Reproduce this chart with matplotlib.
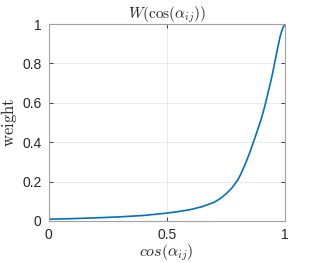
import matplotlib
matplotlib.use('Agg')
import matplotlib.pyplot as plt

# values
cos_a = [0.0, 0.1, 0.2, 0.3, 0.4, 0.5, 0.55, 0.6, 0.65, 0.7, 0.725, 0.75, 0.775,
         0.8, 0.8125, 0.825, 0.8375, 0.85, 0.8625, 0.875, 0.8875, 0.9, 0.915,
         0.925, 0.94, 0.95, 0.96, 0.97, 0.98, 0.99, 1.0]
weight = [0.009, 0.012, 0.016, 0.021, 0.028, 0.040, 0.048, 0.058, 0.073, 0.095,
          0.113, 0.137, 0.167, 0.208, 0.237, 0.270, 0.306, 0.345, 0.387, 0.430,
          0.475, 0.520, 0.585, 0.635, 0.710, 0.765, 0.825, 0.885, 0.940, 0.978,
          1.0]
xticks = [0, 0.5, 1]
yticks = [0, 0.2, 0.4, 0.6, 0.8, 1]

plt.rcParams['mathtext.fontset'] = 'cm'
plt.rcParams['font.family'] = 'Liberation Sans'

fig = plt.figure(figsize=(3.16, 2.63), dpi=100)
ax = fig.add_axes([0.1535, 0.1597, 0.7485, 0.749])

ax.plot(cos_a, weight, color='#0072BD', lw=1.2)

ax.set_xlim(0, 1)
ax.set_ylim(0, 1)
ax.set_xticks(xticks)
ax.set_xticklabels(['0', '0.5', '1'])
ax.set_yticks(yticks)
ax.set_yticklabels(['0', '0.2', '0.4', '0.6', '0.8', '1'])
ax.tick_params(direction='in', length=3, width=0.6, color='#262626',
               labelsize=10, labelcolor='#262626', pad=5,
               top=True, right=True)
ax.grid(True, color='#e6e6e6', lw=0.6)
ax.set_axisbelow(True)
for s in ax.spines.values():
    s.set_color('#a0a0a0')
    s.set_linewidth(0.8)

ax.set_title(r'$W(\cos(\alpha_{ij}))$', fontsize=11, pad=4, color='#262626')
ax.set_xlabel(r'$cos(\alpha_{ij})$', fontsize=11.5, labelpad=0, color='#262626')
ax.set_ylabel(r'$\mathrm{weight}$', fontsize=12, labelpad=2, color='#262626')

fig.savefig('out.png', dpi=100)
